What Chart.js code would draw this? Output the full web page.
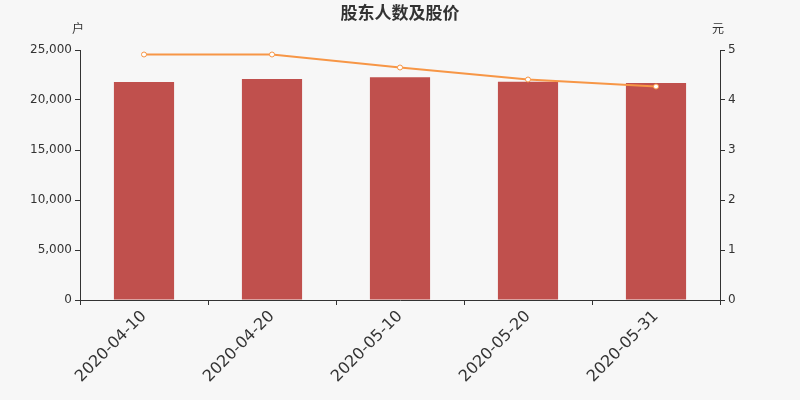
<!DOCTYPE html>
<html>
<head>
<meta charset="utf-8">
<script src="https://cdn.jsdelivr.net/npm/chart.js@4/dist/chart.umd.min.js"></script>
<style>
  html, body { margin: 0; padding: 0; background: #f7f7f7; }
  #wrap { width: 800px; height: 400px; }
</style>
</head>
<body>
<div id="wrap"><canvas id="grafico" width="800" height="400"></canvas></div>
<script>
// datas de referência
const datas = ['2020-04-10', '2020-04-20', '2020-05-10', '2020-05-20', '2020-05-31'];
// número de acionistas (户)
const acionistas = [21800, 22100, 22270, 21830, 21700];
// preço da ação (元)
const precos = [4.91, 4.91, 4.65, 4.41, 4.27];

const fonte = 'DejaVu Sans';

// fundo cinza claro + título e unidades
const extras = {
  id: 'extras',
  beforeDraw(chart) {
    const c = chart.ctx;
    c.save();
    c.fillStyle = '#f7f7f7';
    c.fillRect(0, 0, chart.width, chart.height);
    c.restore();
  },
  afterDraw(chart) {
    const c = chart.ctx;
    c.save();
    c.fillStyle = '#333';
    c.textAlign = 'center';
    c.textBaseline = 'middle';
    c.font = 'bold 17px "Noto Sans CJK SC"';
    c.fillText('股东人数及股价', 400, 13);
    c.font = '12px "Noto Sans CJK SC"';
    c.fillText('户', 78, 28);
    c.fillText('元', 718, 28);
    c.restore();
  }
};

new Chart(document.getElementById('grafico').getContext('2d'), {
  data: {
    labels: datas,
    datasets: [
      {
        type: 'line',
        data: precos,
        yAxisID: 'y1',
        borderColor: '#f79646',
        borderWidth: 2,
        pointRadius: 2.5,
        pointBackgroundColor: '#ffffff',
        pointBorderColor: '#f79646',
        pointBorderWidth: 1,
        tension: 0,
        order: 0
      },
      {
        type: 'bar',
        data: acionistas,
        yAxisID: 'y',
        backgroundColor: '#c0504d',
        barPercentage: 0.47,
        categoryPercentage: 1.0,
        order: 1
      }
    ]
  },
  options: {
    responsive: false,
    animation: false,
    locale: 'en-US',
    layout: { padding: { top: 50, left: 0, right: 0, bottom: 0 } },
    plugins: {
      legend: { display: false },
      tooltip: { enabled: false },
      title: { display: false }
    },
    scales: {
      x: {
        offset: true,
        grid: { drawOnChartArea: false, offset: true, color: '#333', tickLength: 5 },
        border: { color: '#333' },
        ticks: {
          color: '#333',
          font: { family: fonte, size: 16 },
          minRotation: 45,
          maxRotation: 45,
          padding: 2
        },
        afterFit(s) { s.height = 100; }
      },
      y: {
        position: 'left',
        min: 0,
        max: 25000,
        ticks: { stepSize: 5000, color: '#333', font: { family: fonte, size: 12 }, padding: 3 },
        grid: { drawOnChartArea: false, color: '#333', tickLength: 5 },
        border: { color: '#333' },
        afterFit(s) { s.width = 80; }
      },
      y1: {
        position: 'right',
        min: 0,
        max: 5,
        ticks: { stepSize: 1, color: '#333', font: { family: fonte, size: 12 }, padding: 3 },
        grid: { drawOnChartArea: false, color: '#333', tickLength: 5 },
        border: { color: '#333' },
        afterFit(s) { s.width = 80; }
      }
    }
  },
  plugins: [extras]
});
</script>
</body>
</html>
